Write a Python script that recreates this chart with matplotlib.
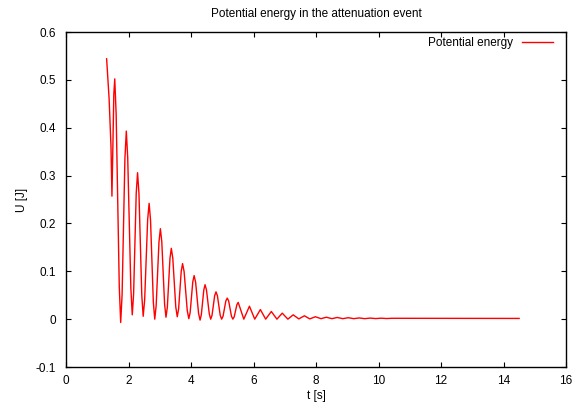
import matplotlib
matplotlib.use("Agg")
import matplotlib.pyplot as plt

# values (time in s, potential energy in J)
t_s = [1.30, 1.38, 1.44, 1.47, 1.50, 1.53, 1.56,
       1.605, 1.705, 1.75, 1.795, 1.885, 1.93,
       1.975, 2.075, 2.12, 2.163, 2.247, 2.29,
       2.335, 2.425, 2.47, 2.517, 2.613, 2.66,
       2.705, 2.795, 2.84, 2.885, 2.975, 3.02,
       3.065, 3.155, 3.20, 3.243, 3.327, 3.37,
       3.418, 3.512, 3.56, 3.603, 3.687, 3.73,
       3.78, 3.88, 3.93, 3.973, 4.057, 4.10,
       4.148, 4.242, 4.29, 4.33, 4.41, 4.45,
       4.495, 4.585, 4.63, 4.673, 4.757, 4.80,
       4.845, 4.935, 4.98, 5.025, 5.115, 5.16,
       5.205, 5.295, 5.34, 5.383, 5.467, 5.51,
       5.69, 5.87, 6.04, 6.22, 6.39, 6.57, 6.75, 6.92, 7.10, 7.27,
       7.45, 7.63, 7.80, 7.98, 8.16, 8.33, 8.51, 8.68, 8.86, 9.03,
       9.21, 9.38, 9.56, 9.73, 9.91, 10.08, 10.26, 10.43, 14.5]
u_j = [0.544, 0.46, 0.36, 0.257, 0.36, 0.47, 0.502,
       0.428, 0.067, -0.007, 0.051, 0.335, 0.393,
       0.337, 0.065, 0.009, 0.052, 0.263, 0.306,
       0.262, 0.050, 0.006, 0.040, 0.208, 0.242,
       0.207, 0.035, 0.000, 0.028, 0.161, 0.189,
       0.162, 0.031, 0.004, 0.025, 0.127, 0.148,
       0.127, 0.026, 0.005, 0.021, 0.100, 0.116,
       0.099, 0.018, 0.001, 0.014, 0.078, 0.091,
       0.077, 0.012, -0.002, 0.009, 0.061, 0.072,
       0.061, 0.011, 0.000, 0.008, 0.049, 0.057,
       0.049, 0.008, 0.000, 0.006, 0.038, 0.044,
       0.038, 0.006, 0.000, 0.005, 0.030, 0.035,
       0.000, 0.027, 0.000, 0.020, 0.000, 0.016, 0.000, 0.0125, 0.000, 0.009,
       0.0005, 0.007, 0.0005, 0.005, 0.001, 0.004, 0.001, 0.0035, 0.001, 0.003,
       0.001, 0.0025, 0.001, 0.0022, 0.0012, 0.002, 0.0013, 0.0018, 0.0015]

x_ticks = [0, 2, 4, 6, 8, 10, 12, 14, 16]
y_ticks = [-0.1, 0, 0.1, 0.2, 0.3, 0.4, 0.5, 0.6]
y_tick_labels = ["-0.1", "0", "0.1", "0.2", "0.3", "0.4", "0.5", "0.6"]

plt.rcParams.update({'font.family': ['Liberation Sans', 'DejaVu Sans'], 'font.size': 8.5})

fig = plt.figure(figsize=(5.76, 4.03), dpi=100)
ax = fig.add_axes([66 / 576, 1 - 367 / 403, 500 / 576, 335 / 403])

ax.plot(t_s, u_j, color='#ff0000', linewidth=1.0, label='Potential energy')

ax.set_xlim(0, 16)
ax.set_ylim(-0.1, 0.6)
ax.set_xticks(x_ticks)
ax.set_xticklabels([str(v) for v in x_ticks])
ax.set_yticks(y_ticks)
ax.set_yticklabels(y_tick_labels)
ax.tick_params(direction='in', length=3.5, width=0.8, top=True, right=True)
ax.tick_params(axis='x', pad=6)
ax.tick_params(axis='y', pad=7)
for sp in ax.spines.values():
    sp.set_linewidth(1.0)

ax.set_xlabel("t [s]", labelpad=2)
ax.set_ylabel("U [J]", labelpad=5.5)
ax.set_title("Potential energy in the attenuation event", fontsize=8.5, pad=11)

ax.legend(loc='upper right', bbox_to_anchor=(0.974, 0.985), frameon=False,
          markerfirst=False, handlelength=2.6, handletextpad=0.76,
          borderaxespad=0, borderpad=0, fontsize=8.5)

fig.savefig("out.png", dpi=100)
